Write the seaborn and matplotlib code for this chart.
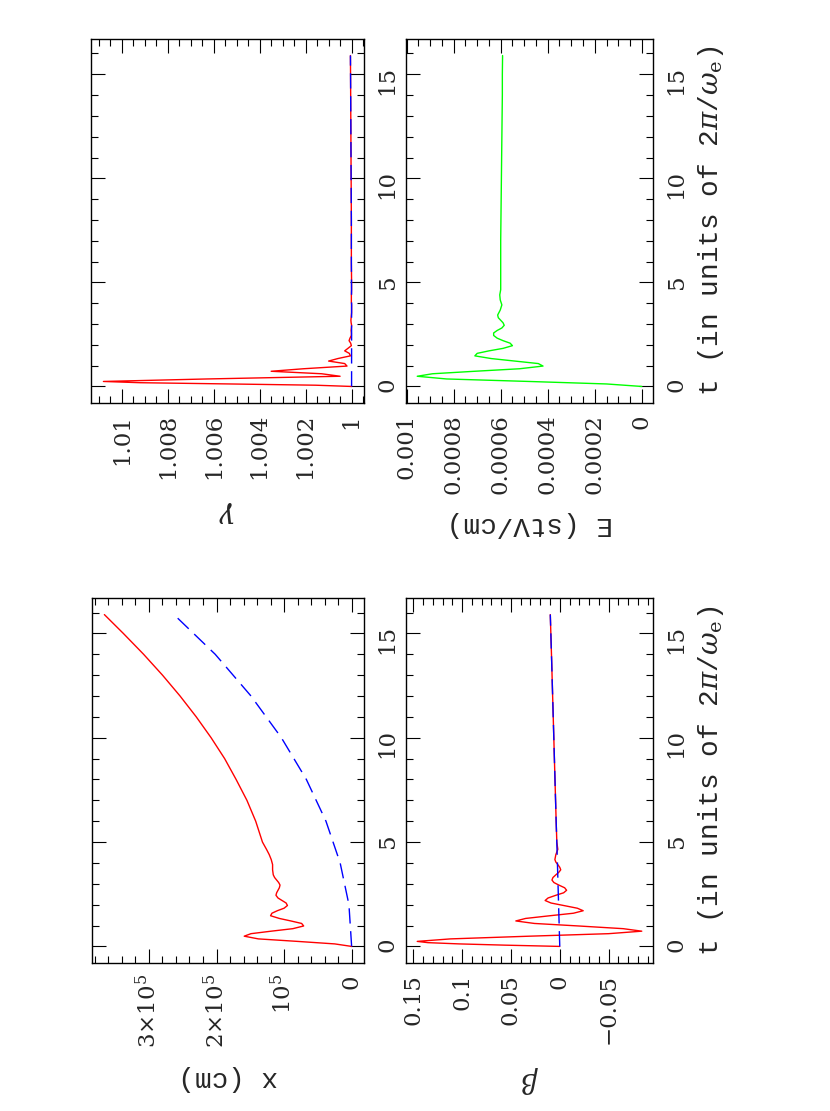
import numpy as np
import pandas as pd
import matplotlib
matplotlib.use("Agg")
import matplotlib.pyplot as plt
import matplotlib.ticker as mticker
import seaborn as sns

# ==============================
# Data
# ==============================
# time in units of 2*pi/omega_e, oscillating (red) solution
t_osc = [0.00, 0.06, 0.12, 0.18, 0.24, 0.36, 0.49, 0.61, 0.73, 0.85, 0.98, 1.10,
         1.22, 1.34, 1.47, 1.59, 1.71, 1.83, 1.96, 2.08, 2.20, 2.32, 2.45, 2.57,
         2.69, 2.81, 2.94, 3.06, 3.18, 3.30, 3.43, 3.55, 3.67, 3.79, 3.92, 4.04,
         4.16, 4.40, 4.65, 5.0, 6.0, 8.0, 10.0, 12.0, 14.0, 15.9]
beta_red = [0.000, 0.056, 0.103, 0.135, 0.146, 0.112, 0.031, -0.050, -0.084, -0.065,
            -0.019, 0.026, 0.045, 0.035, 0.010, -0.014, -0.024, -0.018, -0.004, 0.009,
            0.015, 0.012, 0.004, -0.004, -0.007, -0.005, 0.001, 0.006, 0.008, 0.007,
            0.004, 0.001, -0.001, 0.000, 0.002, 0.004, 0.005, 0.004, 0.002, 0.003,
            0.0037, 0.0049, 0.0061, 0.0073, 0.0085, 0.0097]
gamma_red = [1.0, 1.00157, 1.0053, 1.0092, 1.0108, 1.0063, 1.0005, 1.0013, 1.0035, 1.0021,
             1.0002, 1.0003, 1.0010, 1.0006, 1.00005, 1.0001, 1.0003, 1.00016, 1.00001, 1.00004,
             1.00011, 1.00007, 1.00001, 1.00001, 1.00002, 1.00001, 1.0, 1.00002, 1.00003, 1.00002,
             1.00001, 1.0, 1.0, 1.0, 1.0, 1.00001, 1.00001, 1.00001, 1.0, 1.0,
             1.00001, 1.00001, 1.00002, 1.00003, 1.00004, 1.00005]

t_x = [0.00, 0.12, 0.24, 0.36, 0.49, 0.61, 0.73, 0.85, 0.98, 1.10, 1.22, 1.34,
       1.47, 1.59, 1.71, 1.83, 1.96, 2.08, 2.20, 2.32, 2.45, 2.57, 2.69, 2.81,
       2.94, 3.06, 3.18, 3.30, 3.43, 3.67, 3.92, 4.16, 4.40, 4.65, 5.0, 5.5,
       6.0, 7.0, 8.0, 9.0, 10.0, 11.0, 12.0, 13.0, 14.0, 15.0, 15.9]
# position in units of 1e5 cm
x_red = [0.00, 0.25, 0.80, 1.38, 1.59, 1.49, 1.19, 0.87, 0.71, 0.74, 0.90, 1.07,
         1.20, 1.18, 1.10, 1.00, 0.95, 0.97, 1.03, 1.09, 1.12, 1.11, 1.09, 1.07,
         1.06, 1.08, 1.11, 1.14, 1.16, 1.17, 1.17, 1.19, 1.22, 1.26, 1.32, 1.37,
         1.42, 1.55, 1.71, 1.88, 2.08, 2.30, 2.54, 2.80, 3.08, 3.38, 3.66]
# field in units of 1e-4 stV/cm
e_field = [0.00, 1.50, 4.80, 8.30, 9.55, 8.90, 7.10, 5.20, 4.20, 4.40, 5.40, 6.40,
           7.10, 7.00, 6.50, 5.90, 5.50, 5.60, 5.90, 6.15, 6.30, 6.30, 6.15, 5.95,
           5.85, 5.90, 6.00, 6.10, 6.13, 6.02, 5.95, 6.02, 6.04, 6.00, 6.00, 6.00,
           6.00, 6.00, 5.99, 5.98, 5.97, 5.96, 5.95, 5.94, 5.93, 5.93, 5.92]

# non-oscillating (blue dashed) solution
t_blue = [0.0, 2.0, 4.0, 6.0, 8.0, 10.0, 12.0, 14.0, 15.9]
x_blue = [0.00, 0.04, 0.17, 0.38, 0.67, 1.04, 1.49, 2.02, 2.63]
beta_blue = [0.0, 0.0012, 0.0024, 0.0037, 0.0049, 0.0061, 0.0073, 0.0085, 0.0097]
gamma_blue = [1.0, 1.0, 1.0, 1.00001, 1.00001, 1.00002, 1.00003, 1.00004, 1.00005]

# ==============================
# Style
# ==============================
sns.set_style("white")
plt.rcParams["font.family"] = ["DejaVu Serif"]
plt.rcParams["mathtext.fontset"] = "dejavuserif"
plt.rcParams["font.size"] = 16.5

LABEL_FONT = dict(family=["Liberation Mono", "DejaVu Sans Mono"], size=20)

RED = "#ff0000"
BLUE = "#0000ff"
GREEN = "#00ff00"
DASH = (0, (11, 5.5))

fig = plt.figure(figsize=(8.3, 11.11), dpi=100)
W, H = 830, 1111


def box(x0, y0, x1, y1):
    return [x0 / W, 1 - y1 / H, (x1 - x0) / W, (y1 - y0) / H]


ax_g = fig.add_axes(box(91, 39, 364, 403))
ax_e = fig.add_axes(box(406, 39, 653, 403))
ax_x = fig.add_axes(box(92, 598, 364, 963))
ax_b = fig.add_axes(box(406, 598, 653, 963))


def line(ax, vals, t, color, dashed=False):
    kw = dict(linestyle=DASH) if dashed else {}
    sns.lineplot(x=vals, y=t, ax=ax, color=color, lw=1.0, orient="y",
                 estimator=None, sort=False, **kw)


# ==============================
# Curves
# ==============================
line(ax_g, gamma_red, t_osc, RED)
line(ax_g, gamma_blue, t_blue, BLUE, dashed=True)

line(ax_e, np.array(e_field) * 1e-4, t_x, GREEN)

line(ax_x, np.array(x_red) * 1e5, t_x, RED)
line(ax_x, np.array(x_blue) * 1e5, t_blue, BLUE, dashed=True)

line(ax_b, beta_red, t_osc, RED)
line(ax_b, beta_blue, t_blue, BLUE, dashed=True)


def plain(v, pos):
    s = "%g" % v
    return s.replace("-", "\u2212")


def pow10(v, pos):
    n = int(round(v / 1e5))
    if n == 0:
        return "0"
    if n == 1:
        return r"$10^5$"
    return r"$%d{\times}10^5$" % n


def style(ax, major, minor, fmt, label, t_label=False, math_label=False):
    ax.invert_xaxis()
    ax.xaxis.set_major_locator(mticker.MultipleLocator(major))
    ax.xaxis.set_minor_locator(mticker.MultipleLocator(minor))
    ax.yaxis.set_major_locator(mticker.MultipleLocator(5))
    ax.yaxis.set_minor_locator(mticker.MultipleLocator(1))
    ax.xaxis.set_major_formatter(mticker.FuncFormatter(fmt))
    ax.yaxis.set_major_formatter(mticker.FuncFormatter(plain))
    ax.tick_params(which="both", direction="in", top=True, bottom=True,
                   left=True, right=True, width=0.8, color="black")
    ax.tick_params(which="major", length=10)
    ax.tick_params(which="minor", length=5)
    ax.tick_params(axis="x", labelrotation=90, pad=8)
    ax.tick_params(axis="y", labelleft=False, labelright=True,
                   labelrotation=90, pad=9)
    if math_label:
        ax.set_xlabel(label, rotation=180, labelpad=14, fontsize=20)
    else:
        ax.set_xlabel(label, rotation=180, labelpad=12, **LABEL_FONT)
    ax.yaxis.set_label_position("right")
    if t_label:
        ax.set_ylabel(r"t (in units of 2$\pi$/$\omega_{\rm e}$)",
                      rotation=90, labelpad=6, **LABEL_FONT)
    else:
        ax.set_ylabel("")
    for s in ax.spines.values():
        s.set_linewidth(1.0)
        s.set_color("black")


style(ax_g, 0.002, 0.0005, plain, r"$\gamma$", math_label=True)
style(ax_e, 0.0002, 0.00005, plain, "E (stV/cm)", t_label=True)
style(ax_x, 1e5, 2e4, pow10, "x (cm)")
style(ax_b, 0.05, 0.01, plain, r"$\beta$", t_label=True, math_label=True)

fig.savefig("out.png", dpi=100)
plt.close(fig)
print("saved out.png")
